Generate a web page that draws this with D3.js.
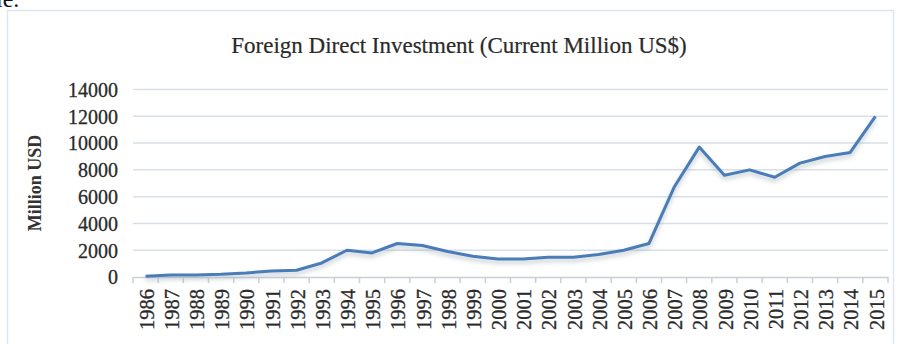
<!DOCTYPE html>
<html>
<head>
<meta charset="utf-8">
<script src="https://cdn.jsdelivr.net/npm/d3@7"></script>
<style>
  html, body { margin: 0; padding: 0; background: #ffffff; }
  svg { display: block; }
</style>
</head>
<body>
<svg id="chart" width="901" height="344"></svg>
<script>
const years = ["1986","1987","1988","1989","1990","1991","1992","1993","1994","1995",
  "1996","1997","1998","1999","2000","2001","2002","2003","2004","2005",
  "2006","2007","2008","2009","2010","2011","2012","2013","2014","2015"];
const fdi = [50, 150, 150, 200, 300, 450, 500, 1050, 2000, 1800,
  2500, 2350, 1900, 1550, 1350, 1350, 1480, 1480, 1680, 2000,
  2500, 6700, 9700, 7600, 8000, 7450, 8500, 9000, 9300, 12000];
const yTicks = [0, 2000, 4000, 6000, 8000, 10000, 12000, 14000];
const titleText = "Foreign Direct Investment (Current Million US$)";
const yAxisTitle = "Million USD";
const fragmentText = "ie.";

(function () {
const svg = d3.select("#chart");
const serif = "'Liberation Serif', 'Times New Roman', serif";

// text fragment from preceding document line (cut off at top)
svg.append("text").attr("x", -4).attr("y", 7)
  .attr("font-family", serif).attr("font-size", 24).attr("fill", "#111")
  .text(fragmentText);

// chart frame
svg.append("rect").attr("x", 7.5).attr("y", 10.5).attr("width", 886).attr("height", 340)
  .attr("fill", "#ffffff").attr("stroke", "#dfe5ec").attr("stroke-width", 1.5);

const mLeft = 133, mRight = 888, mTop = 89.5, mBottom = 277;
const x = d3.scaleBand().domain(years).range([mLeft, mRight]);
const y = d3.scaleLinear().domain([0, 14000]).range([mBottom, mTop]);

// gridlines
svg.append("g").selectAll("line").data(yTicks.filter(d => d > 0)).join("line")
  .attr("x1", mLeft).attr("x2", mRight)
  .attr("y1", d => y(d)).attr("y2", d => y(d))
  .attr("stroke", "#d9dfe8").attr("stroke-width", 1.5);

// y axis labels
const yAxis = d3.axisLeft(y).tickValues(yTicks).tickFormat(d3.format("d")).tickSize(0).tickPadding(15);
const gy = svg.append("g").attr("transform", `translate(${mLeft},0)`).call(yAxis);
gy.select(".domain").remove();
gy.selectAll("text").attr("font-family", serif).attr("font-size", 20).attr("fill", "#2a2a2a")
  .attr("stroke", "#2a2a2a").attr("stroke-width", 0.3)
  .attr("dy", "0.34em");

// x axis
const xAxis = d3.axisBottom(x).tickSize(0).tickPadding(0);
const gx = svg.append("g").attr("transform", `translate(0,${mBottom})`).call(xAxis);
gx.select(".domain").attr("stroke", "#c8ced8").attr("stroke-width", 1.5);
gx.selectAll("text")
  .attr("font-family", serif).attr("font-size", 20.5).attr("fill", "#2a2a2a")
  .attr("stroke", "#2a2a2a").attr("stroke-width", 0.3)
  .attr("text-anchor", "end")
  .attr("transform", "translate(1,12) rotate(-90)")
  .attr("x", 0).attr("y", 0).attr("dy", "0.35em");
// category boundary tick marks
const boundaries = years.map(d => x(d)).concat([x(years[years.length - 1]) + x.bandwidth()]);
svg.append("g").selectAll("line").data(boundaries).join("line")
  .attr("x1", d => d).attr("x2", d => d)
  .attr("y1", mBottom).attr("y2", mBottom + 6)
  .attr("stroke", "#c8ced8").attr("stroke-width", 1.5);

// line shadow + line
const line = d3.line().x((d, i) => x(years[i]) + x.bandwidth() / 2).y(d => y(d));
const defs = svg.append("defs");
defs.append("filter").attr("id", "blur").append("feGaussianBlur").attr("stdDeviation", 2);
svg.append("path").datum(fdi).attr("d", line)
  .attr("fill", "none").attr("stroke", "#9aa3ad").attr("stroke-opacity", 0.45)
  .attr("stroke-width", 4).attr("transform", "translate(0,3)").attr("filter", "url(#blur)");
svg.append("path").datum(fdi).attr("d", line)
  .attr("fill", "none").attr("stroke", "#4a7cb8").attr("stroke-width", 3)
  .attr("stroke-linejoin", "round");

// title
svg.append("text").attr("x", 459).attr("y", 53).attr("text-anchor", "middle")
  .attr("font-family", serif).attr("font-size", 23).attr("fill", "#2a2a2a")
  .attr("stroke", "#2a2a2a").attr("stroke-width", 0.2)
  .text(titleText);

// y axis title
svg.append("text").attr("transform", "translate(41,183) rotate(-90)")
  .attr("text-anchor", "middle")
  .attr("font-family", serif).attr("font-size", 18).attr("font-weight", "bold").attr("fill", "#333")
  .text(yAxisTitle);
})();
</script>
</body>
</html>
